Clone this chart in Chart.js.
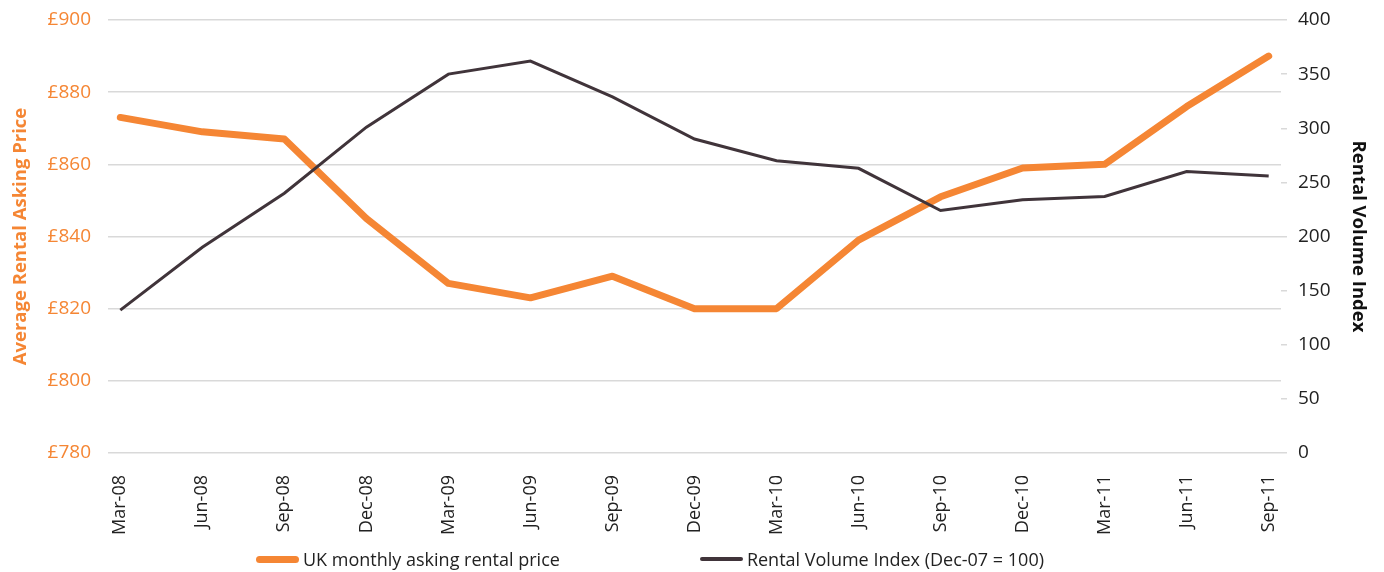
<!DOCTYPE html>
<html>
<head>
<meta charset="utf-8">
<script src="https://cdn.jsdelivr.net/npm/chart.js@4"></script>
<style>
  body { margin: 0; background: #fff; }
  #wrap { position: relative; width: 1384px; height: 572px; }
  #legend {
    position: absolute; left: 0; top: 547px; width: 1300px;
    display: flex; justify-content: center; gap: 140px;
    font-family: "Open Sans", sans-serif; font-size: 18px; color: #222;
  }
  .item { display: flex; align-items: center; }
  .swatch { width: 43px; margin-right: 4px; border-radius: 4px; }
</style>
</head>
<body>
<div id="wrap">
  <canvas id="rentChart" width="1384" height="572"></canvas>
  <div id="legend"></div>
</div>
<script>
const quarters = [
  "Mar-08", "Jun-08", "Sep-08", "Dec-08", "Mar-09", "Jun-09", "Sep-09", "Dec-09",
  "Mar-10", "Jun-10", "Sep-10", "Dec-10", "Mar-11", "Jun-11", "Sep-11"
];
const askingPrice = [873, 869, 867, 845, 827, 823, 829, 820, 820, 839, 851, 859, 860, 876, 890];
const volumeIndex = [132, 190, 240, 301, 350, 362, 329, 290, 270, 263, 224, 234, 237, 260, 256];
const seriesNames = ["UK monthly asking rental price", "Rental Volume Index (Dec-07 = 100)"];

const ORANGE = "#f58634";
const DARK = "#40343a";

// x is linear so the lines can start a little inside the gridlines
const toPoints = (vals) => vals.map((v, i) => ({ x: i, y: v }));

// fixed widths for the y axes, and no extra label padding above/below
function fixWidth(w) {
  return (scale) => {
    scale.width = w;
    scale.paddingTop = 0;
    scale.paddingBottom = 0;
  };
}

let rentChart = new Chart(document.getElementById("rentChart").getContext("2d"), {
  type: "line",
  data: {
    datasets: [
      {
        label: seriesNames[0],
        data: toPoints(askingPrice),
        borderColor: ORANGE,
        backgroundColor: ORANGE,
        borderWidth: 7,
        borderCapStyle: "round",
        borderJoinStyle: "round",
        pointRadius: 0,
        yAxisID: "y",
        order: 2
      },
      {
        label: seriesNames[1],
        data: toPoints(volumeIndex),
        borderColor: DARK,
        backgroundColor: DARK,
        borderWidth: 3,
        pointRadius: 0,
        yAxisID: "y1",
        order: 1
      }
    ]
  },
  options: {
    responsive: false,
    animation: false,
    layout: { padding: { top: 20, bottom: 0, left: 0, right: 0 } },
    plugins: {
      legend: { display: false },
      tooltip: { enabled: false }
    },
    scales: {
      x: {
        type: "linear",
        min: -0.15,
        max: 14.15,
        afterBuildTicks: (scale) => {
          scale.ticks = quarters.map((q, i) => ({ value: i }));
        },
        afterFit: (scale) => { scale.height = 119; },
        grid: { display: false },
        border: { display: false },
        ticks: {
          autoSkip: false,
          minRotation: 90,
          maxRotation: 90,
          padding: 14,
          color: "#222",
          font: { family: "Open Sans", size: 18 },
          callback: (v) => quarters[v]
        }
      },
      y: {
        position: "left",
        min: 780,
        max: 900,
        afterFit: fixWidth(108),
        grid: { color: "#d9d9d9", lineWidth: 1.5, drawTicks: false },
        border: { display: false },
        ticks: {
          stepSize: 20,
          padding: 17,
          color: ORANGE,
          font: { family: "Open Sans", size: 19 },
          callback: (v) => "£" + v
        },
        title: {
          display: true,
          text: "Average Rental Asking Price",
          color: ORANGE,
          padding: { top: 10, bottom: 0 },
          font: { family: "Open Sans", size: 18.5, weight: "bold" }
        }
      },
      y1: {
        position: "right",
        min: 0,
        max: 400,
        afterFit: fixWidth(103),
        grid: { drawOnChartArea: false, color: "#d9d9d9", lineWidth: 1.5, tickLength: 6 },
        border: { display: false },
        ticks: {
          stepSize: 50,
          padding: 11,
          color: "#222",
          font: { family: "Open Sans", size: 19 }
        },
        title: {
          display: true,
          text: "Rental Volume Index",
          color: "#111",
          padding: { top: 15, bottom: 0 },
          font: { family: "Open Sans", size: 18.5, weight: "bold" }
        }
      }
    }
  }
});

// legend as html so the wide gap between entries can be kept
const legendBox = document.getElementById("legend");
rentChart.data.datasets.forEach((ds) => {
  const item = document.createElement("div");
  item.className = "item";
  const sw = document.createElement("span");
  sw.className = "swatch";
  sw.style.height = (ds.borderWidth === 7 ? 7 : 4) + "px";
  sw.style.background = ds.borderColor;
  const txt = document.createElement("span");
  txt.textContent = ds.label;
  item.appendChild(sw);
  item.appendChild(txt);
  legendBox.appendChild(item);
});
</script>
</body>
</html>
